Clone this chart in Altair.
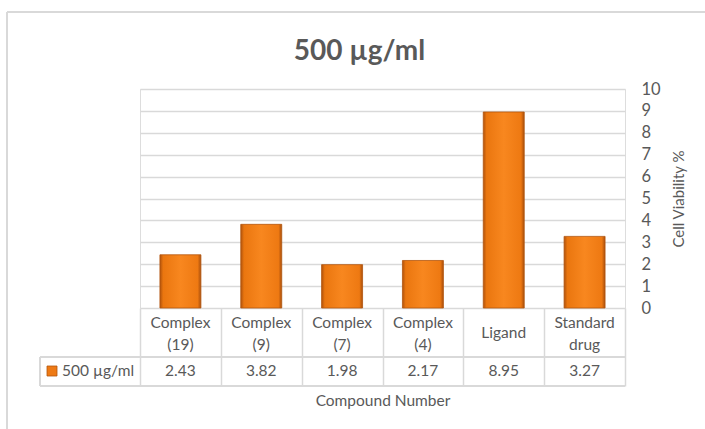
import altair as alt
import pandas as pd

categories = ["Complex\n(19)", "Complex\n(9)", "Complex\n(7)", "Complex\n(4)", "Ligand", "Standard\ndrug"]
values = [2.43, 3.82, 1.98, 2.17, 8.95, 3.27]
series_name = "500 µg/ml"
y_ticks = [0, 1, 2, 3, 4, 5, 6, 7, 8, 9, 10]

df = pd.DataFrame({"cat": categories, "val": values})
FONT = "Lato"
GRAY = "#595959"
LINE = "#d9d9d9"

W, H = 485, 219

xenc = alt.X(
    "cat:N",
    sort=categories,
    scale=alt.Scale(type="band", paddingInner=0, paddingOuter=0),
    axis=alt.Axis(
        labels=False, ticks=True, tickSize=78, tickBand="extent", tickColor=LINE,
        tickWidth=1.5, domain=False, grid=False, title="Compound Number",
        titleFont=FONT, titleFontSize=15.5, titleFontWeight="normal", titleColor=GRAY,
        titlePadding=7,
    ),
)

bar_grad = alt.Gradient(
    gradient="linear",
    stops=[
        alt.GradientStop(color="#b0520c", offset=0),
        alt.GradientStop(color="#ea760f", offset=0.08),
        alt.GradientStop(color="#f8871f", offset=0.5),
        alt.GradientStop(color="#ee7912", offset=0.92),
        alt.GradientStop(color="#a84e0c", offset=1),
    ],
    x1=0, x2=1, y1=0, y2=0,
)

bars = alt.Chart(df).mark_bar(
    width=alt.RelativeBandSize(0.507), color=bar_grad, stroke="#b3560e", strokeWidth=0.8
).encode(
    x=xenc,
    y=alt.Y(
        "val:Q",
        scale=alt.Scale(domain=[0, 10]),
        axis=alt.Axis(
            orient="right", values=y_ticks, ticks=False, domain=False,
            grid=True, gridColor=LINE, gridWidth=1.5,
            labelFont=FONT, labelFontSize=16.5, labelColor=GRAY, labelPadding=16,
            labelAlign="left",
            title="Cell Viability %", titleAngle=270, titleFont=FONT,
            titleFontSize=15, titleFontWeight="normal", titleColor=GRAY, titlePadding=26,
        ),
    ),
)

multi = "indexof(datum.cat, '\\n') >= 0"
single = "indexof(datum.cat, '\\n') < 0"

headers2 = alt.Chart(df).transform_filter(multi).mark_text(
    font=FONT, fontSize=15.5, color=GRAY, lineBreak="\n", lineHeight=22, baseline="middle"
).encode(x=xenc, y=alt.value(233.5), text="cat:N")

headers1 = alt.Chart(df).transform_filter(single).mark_text(
    font=FONT, fontSize=15.5, color=GRAY, baseline="middle"
).encode(x=xenc, y=alt.value(244), text="cat:N")

vals = alt.Chart(df).mark_text(
    font=FONT, fontSize=15.5, color=GRAY, baseline="middle"
).encode(x=xenc, y=alt.value(282), text=alt.Text("val:Q", format=".2f"))

hline1 = alt.Chart(df).mark_rule(color=LINE, strokeWidth=1.5).encode(
    x=alt.value(-100), x2=alt.value(W), y=alt.value(268))
hline2 = alt.Chart(df).mark_rule(color=LINE, strokeWidth=1.5).encode(
    x=alt.value(-100), x2=alt.value(W), y=alt.value(297))
vline = alt.Chart(df).mark_rule(color=LINE, strokeWidth=1.5).encode(
    x=alt.value(-100), y=alt.value(268), y2=alt.value(297))

frame_top = alt.Chart(df).mark_rule(color=LINE, strokeWidth=2).encode(
    x=alt.value(-133), x2=alt.value(W + 80), y=alt.value(-77))
frame_left = alt.Chart(df).mark_rule(color=LINE, strokeWidth=2).encode(
    x=alt.value(-133), y=alt.value(-77), y2=alt.value(H + 121))

legend_key = alt.Chart(pd.DataFrame({"s": [series_name]})).mark_square(
    size=100, color="#ee7a15", stroke="#b3560e", strokeWidth=0.8, opacity=1
).encode(x=alt.value(-88), y=alt.value(282))
legend_txt = alt.Chart(pd.DataFrame({"s": [series_name]})).mark_text(
    font=FONT, fontSize=15.5, color=GRAY, align="left", baseline="middle"
).encode(x=alt.value(-78), y=alt.value(282), text="s:N")

chart = alt.layer(
    frame_top, frame_left, bars, headers2, headers1, vals, hline1, hline2, vline,
    legend_key, legend_txt
).properties(
    width=W, height=H,
    title=alt.TitleParams(
        "500 µg/ml", anchor="middle", dx=-23, fontSize=28, fontWeight="bold",
        font=FONT, color=GRAY, offset=-77, baseline="alphabetic",
    ),
    autosize=alt.AutoSizeParams(type="none"),
    padding={"left": 140, "top": 89, "right": 80, "bottom": 121},
).configure_view(stroke=None).configure(background="white")

chart.save("out.html", embed_options={"renderer": "svg", "actions": False})
